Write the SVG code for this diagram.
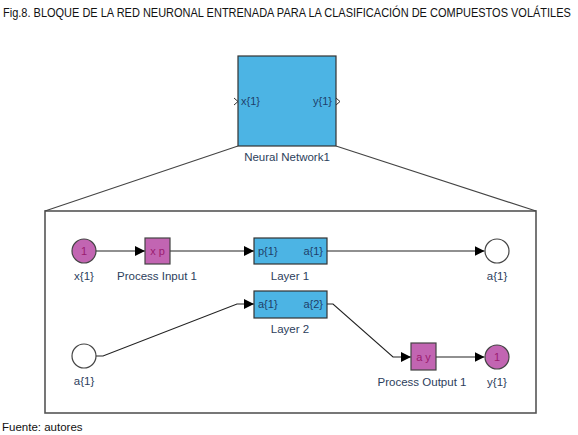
<svg xmlns="http://www.w3.org/2000/svg" width="578" height="435" viewBox="0 0 578 435">
<defs>
<marker id="arr" markerWidth="10" markerHeight="10" refX="10" refY="5" orient="auto" markerUnits="userSpaceOnUse">
<path d="M0,0 L10,5 L0,10 Z" fill="#000"/>
</marker>
<style>
.t{font-family:"Liberation Sans",Arial,sans-serif;font-size:11.5px;fill:#2c3e5c}
.in{font-family:"Liberation Sans",Arial,sans-serif;font-size:11px;fill:#1f3f6a}
.pk{font-family:"Liberation Sans",Arial,sans-serif;font-size:11px;fill:#9a1c70}
.blue{fill:#4cb4e4;stroke:#333;stroke-width:1.2}
.mag{fill:#c265b2;stroke:#444;stroke-width:1.2}
.wh{fill:#fff;stroke:#444;stroke-width:1.2}
.ln{fill:none;stroke:#222;stroke-width:1.1}
.frame{fill:none;stroke:#555;stroke-width:1.6}
</style>
</defs>
<rect width="578" height="435" fill="#fff"/>
<text transform="translate(3,17) scale(0.88,1)" x="0" y="0" font-family="'Liberation Sans',Arial,sans-serif" font-size="12.5" fill="#111">Fig.8. BLOQUE DE LA RED NEURONAL ENTRENADA PARA LA CLASIFICACIÓN DE COMPUESTOS VOLÁTILES</text>

<g id="neural-network1">
<rect class="blue" x="238" y="56" width="98" height="90"/>
<path d="M234,98 L238,101.5 L234,105" fill="none" stroke="#333" stroke-width="1"/>
<path d="M336,98 L340,101.5 L336,105" fill="none" stroke="#333" stroke-width="1"/>
<text class="in" x="241" y="105">x{1}</text>
<text class="in" x="332" y="105" text-anchor="end">y{1}</text>
<text class="t" x="287" y="161" text-anchor="middle">Neural Network1</text>
</g>

<g id="frame">
<rect class="frame" x="45" y="211" width="491" height="202"/>
<line x1="238" y1="146" x2="45" y2="211" stroke="#444" stroke-width="1.1"/>
<line x1="336" y1="146" x2="536" y2="211" stroke="#444" stroke-width="1.1"/>
</g>

<g id="connectors">
<line class="ln" x1="96" y1="251" x2="145" y2="251" marker-end="url(#arr)"/>
<line class="ln" x1="170" y1="251" x2="254" y2="251" marker-end="url(#arr)"/>
<line class="ln" x1="327" y1="251" x2="484.5" y2="251" marker-end="url(#arr)"/>
<polyline class="ln" points="96,356 103,356 237,304 254,304" marker-end="url(#arr)"/>
<polyline class="ln" points="327,304 333,304 393,357 411,357" marker-end="url(#arr)"/>
<line class="ln" x1="436" y1="357" x2="484.5" y2="357" marker-end="url(#arr)"/>
</g>

<g id="x1-input">
<circle class="mag" cx="84" cy="251" r="12"/>
<text class="pk" x="84" y="255" text-anchor="middle">1</text>
<text class="t" x="84" y="280" text-anchor="middle">x{1}</text>
</g>

<g id="process-input-1">
<rect class="mag" x="145" y="238" width="25" height="26"/>
<text class="pk" x="157.5" y="255" text-anchor="middle">x p</text>
<text class="t" x="157" y="280" text-anchor="middle">Process Input 1</text>
</g>

<g id="layer-1">
<rect class="blue" x="254" y="238" width="73" height="26"/>
<text class="in" x="258" y="255">p{1}</text>
<text class="in" x="323" y="255" text-anchor="end">a{1}</text>
<text class="t" x="290" y="280" text-anchor="middle">Layer 1</text>
</g>

<g id="a1-output">
<circle class="wh" cx="497" cy="251" r="12"/>
<text class="t" x="497" y="280" text-anchor="middle">a{1}</text>
</g>

<g id="a1-input">
<circle class="wh" cx="84" cy="356" r="12"/>
<text class="t" x="84" y="385" text-anchor="middle">a{1}</text>
</g>

<g id="layer-2">
<rect class="blue" x="254" y="291" width="73" height="27"/>
<text class="in" x="258" y="308">a{1}</text>
<text class="in" x="323" y="308" text-anchor="end">a{2}</text>
<text class="t" x="290" y="333" text-anchor="middle">Layer 2</text>
</g>

<g id="process-output-1">
<rect class="mag" x="411" y="343" width="25" height="27"/>
<text class="pk" x="423.5" y="361" text-anchor="middle">a y</text>
<text class="t" x="422" y="386" text-anchor="middle">Process Output 1</text>
</g>

<g id="y1-output">
<circle class="mag" cx="497" cy="357" r="12"/>
<text class="pk" x="497" y="361" text-anchor="middle">1</text>
<text class="t" x="497" y="386" text-anchor="middle">y{1}</text>
</g>

<text x="2" y="431" font-family="'Liberation Sans',Arial,sans-serif" font-size="11.5" fill="#111">Fuente: autores</text>
</svg>
